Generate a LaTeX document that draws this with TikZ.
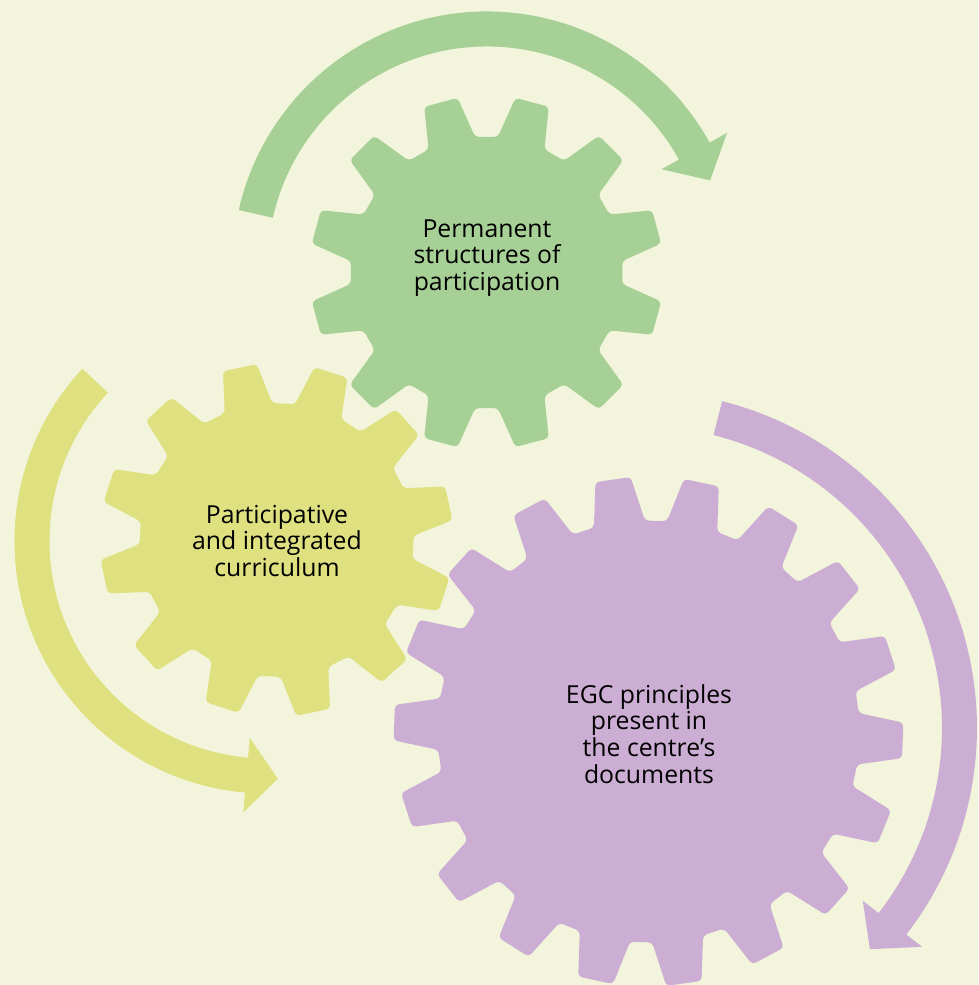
\documentclass[tikz,border=0pt]{standalone}
\usepackage{fontspec}
\setmainfont{Open Sans}
\definecolor{paper}{RGB}{242,245,220}
\definecolor{leaf}{RGB}{166,208,150}
\definecolor{straw}{RGB}{223,225,128}
\definecolor{lilac}{RGB}{204,174,212}
\tikzset{
	gear/.style={rounded corners=4pt},
	geartext/.style={align=center, font=\fontsize{24.8}{26.7}\selectfont, text=black},
}
\begin{document}
\begin{tikzpicture}[x=1pt,y=1pt]
	\fill[paper] (0,0) rectangle (978,985);
	\useasboundingbox (0,0) rectangle (978,985);
	\coordinate (greenc) at (486.5,712.5);
	\coordinate (yellowc) at (276.5,445);
	\coordinate (purplec) at (648.5,253.5);
	\coordinate (greenarc) at (487,719);
	\coordinate (yellowarc) at (267,444);
	\coordinate (purplearc) at (640,257);
	% gears
	\fill[leaf, gear, shift={(greenc)}] (0:136)
		\foreach \k in {0,...,11}{
			-- ({15+30*\k-10.2}:136) -- ({15+30*\k-5.6}:177)
			-- ({15+30*\k+5.6}:177) -- ({15+30*\k+10.2}:136)} -- cycle;
	\fill[straw, gear, shift={(yellowc)}] (-3:137)
		\foreach \k in {0,...,11}{
			-- ({12+30*\k-10.2}:137) -- ({12+30*\k-5.6}:177)
			-- ({12+30*\k+5.6}:177) -- ({12+30*\k+10.2}:137)} -- cycle;
	\fill[lilac, gear, shift={(purplec)}] (-12:211)
		\foreach \k in {0,...,17}{
			-- ({-2+20*\k-7}:211) -- ({-2+20*\k-4}:255)
			-- ({-2+20*\k+4}:255) -- ({-2+20*\k+7}:211)} -- cycle;
	% arrows round the gears
	\fill[leaf, shift={(greenarc)}] (167.3:219.5)
		arc[start angle=167.3, end angle=29, radius=219.5]
		-- (29:199.5) -- (21:239) -- (29:274.5) -- (29:254.5)
		arc[start angle=29, end angle=167.3, radius=254.5] -- cycle;
	\fill[straw, shift={(yellowarc)}] (137:217.5)
		arc[start angle=137, end angle=265, radius=217.5]
		-- (265:197.5) -- (272.6:238) -- (265:272.5) -- (265:252.5)
		arc[start angle=265, end angle=137, radius=252.5] -- cycle;
	\fill[lilac, shift={(purplearc)}] (75.9:302)
		arc[start angle=75.9, end angle=-37.8, radius=302]
		-- (-37.8:282) -- (-43.9:319) -- (-37.8:357) -- (-37.8:337)
		arc[start angle=-37.8, end angle=75.9, radius=337] -- cycle;
	% texts
	\node[geartext] (permanent) at (487,727) {Permanent\\structures of\\participation};
	\node[geartext] (curriculum) at (277,444) {Participative\\and integrated\\curriculum};
	\node[geartext] (principles) at (649,251) {EGC principles\\present in\\the centre’s\\documents};
\end{tikzpicture}
\end{document}
